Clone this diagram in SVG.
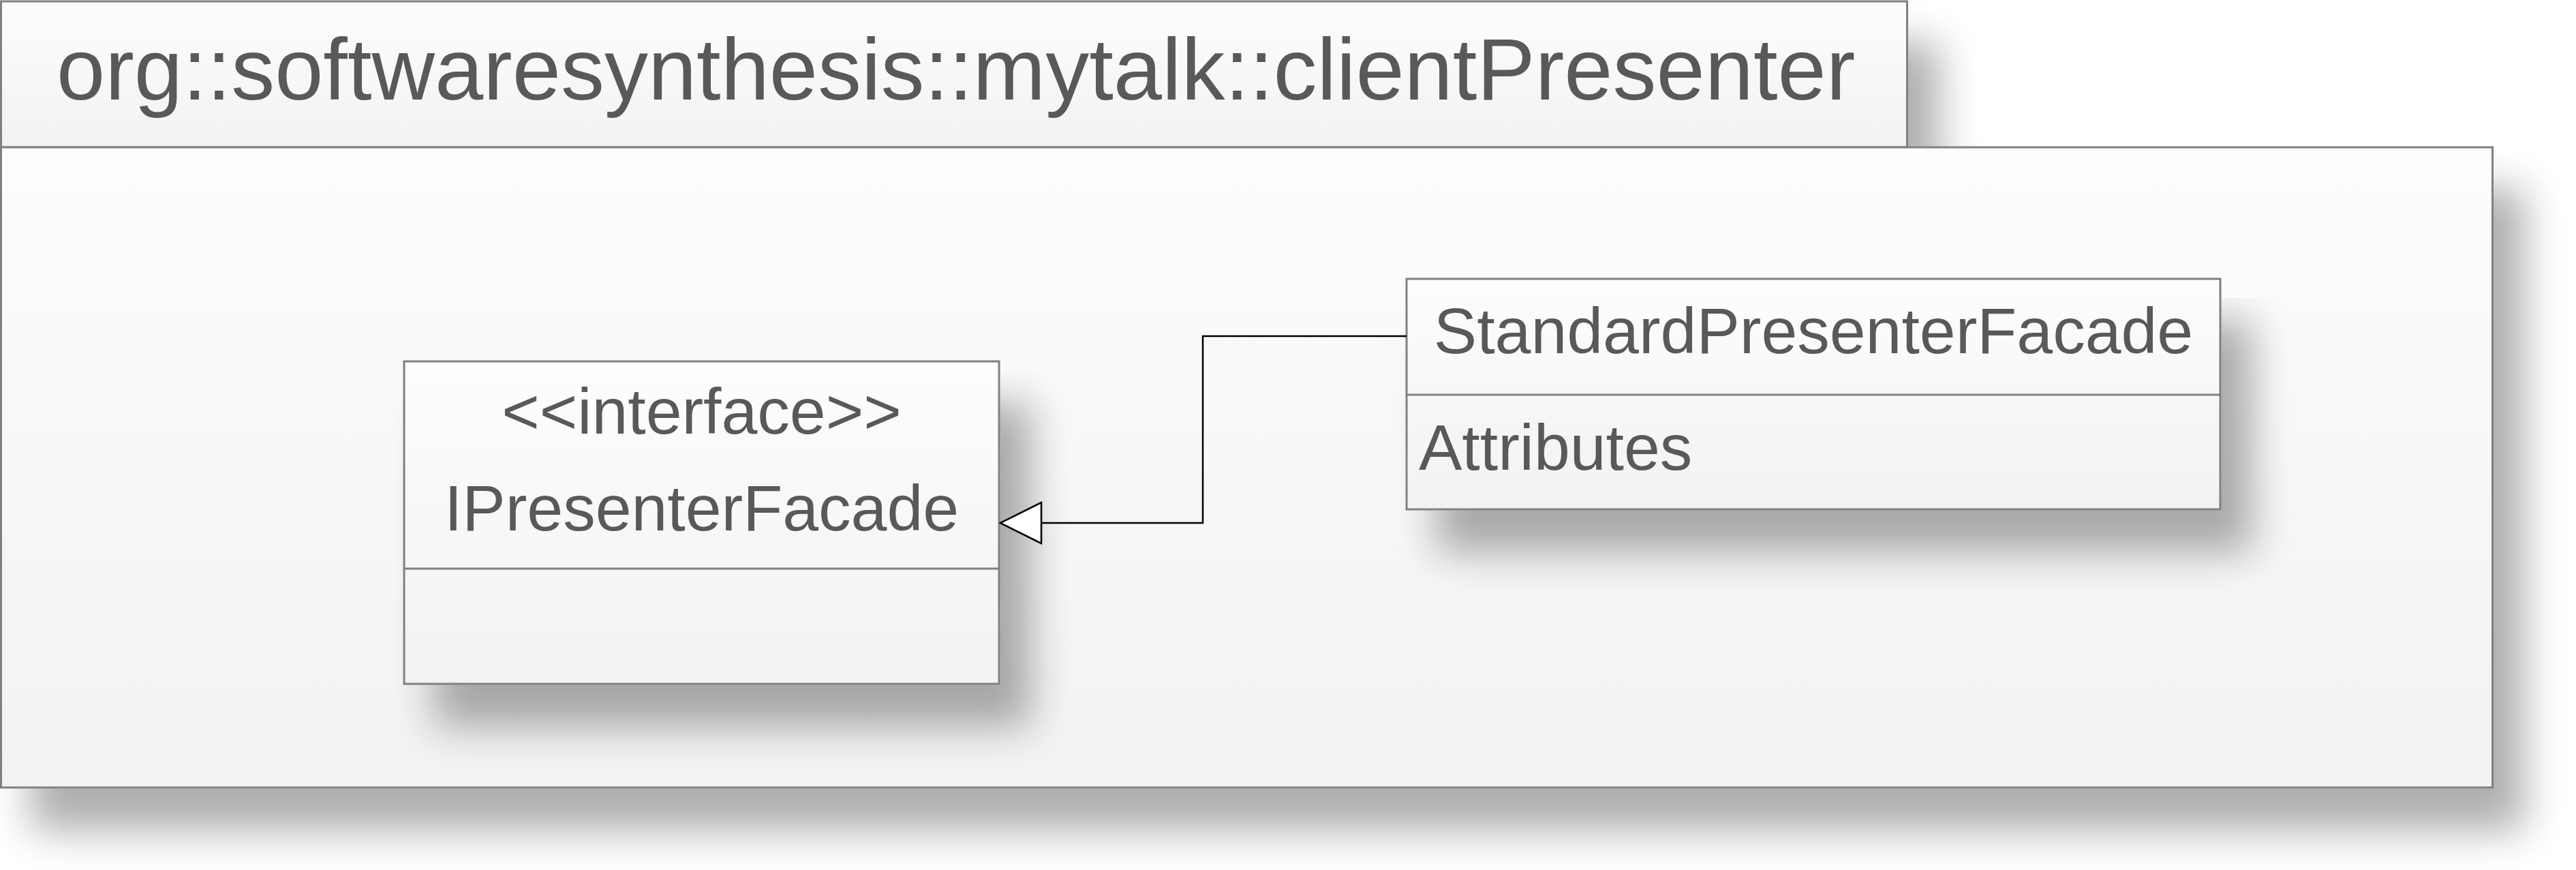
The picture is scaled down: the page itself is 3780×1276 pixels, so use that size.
<svg xmlns="http://www.w3.org/2000/svg" width="3780" height="1276" viewBox="0 0 3780 1276">
<defs>
<linearGradient id="gFill" x1="0" y1="0" x2="0" y2="1">
<stop offset="0" stop-color="#fdfdfd"/>
<stop offset="1" stop-color="#f2f2f2"/>
</linearGradient>
<filter id="shadow" x="-10%" y="-10%" width="130%" height="150%">
<feGaussianBlur in="SourceAlpha" stdDeviation="30"/>
<feOffset dx="45" dy="62" result="b"/>
<feComponentTransfer><feFuncA type="linear" slope="0.32"/></feComponentTransfer>
<feMerge><feMergeNode/><feMergeNode in="SourceGraphic"/></feMerge>
</filter>
<marker id="tri" markerWidth="64" markerHeight="64" viewBox="0 0 64 64" refX="62" refY="32" orient="auto" markerUnits="userSpaceOnUse">
<path d="M2,2 L62,32 L2,62 Z" fill="#ffffff" stroke="#000000" stroke-width="2.5"/>
</marker>
</defs>
<style>
.box{fill:url(#gFill);stroke:#808080;stroke-width:3}
.div{stroke:#808080;stroke-width:3}
.t{font-family:"Liberation Sans",Arial,sans-serif;fill:#595959}
.conn{fill:none;stroke:#000000;stroke-width:2.5}
</style>
<rect width="3780" height="1276" fill="#ffffff"/>
<g id="package" filter="url(#shadow)">
<rect class="box" x="1.5" y="2" width="2797" height="214"/>
<rect class="box" x="1.5" y="216" width="3656" height="939"/>
</g>
<text class="t" x="83" y="146" font-size="128">org::softwaresynthesis::mytalk::clientPresenter</text>
<g id="IPresenterFacade">
<g filter="url(#shadow)">
<rect class="box" x="593" y="530" width="873" height="473"/>
</g>
<line class="div" x1="593" y1="834" x2="1466" y2="834"/>
<text class="t" x="1029.5" y="636" font-size="95" text-anchor="middle">&lt;&lt;interface&gt;&gt;</text>
<text class="t" x="1029.5" y="778" font-size="95" text-anchor="middle">IPresenterFacade</text>
</g>
<g id="StandardPresenterFacade">
<g filter="url(#shadow)">
<rect class="box" x="2064" y="409" width="1194" height="338"/>
</g>
<line class="div" x1="2064" y1="579" x2="3258" y2="579"/>
<text class="t" x="2661" y="518" font-size="95" text-anchor="middle">StandardPresenterFacade</text>
<text class="t" x="2082" y="689" font-size="95">Attributes</text>
</g>
<g id="connectors">
<path class="conn" d="M2064,493 L1765,493 L1765,767 L1468,767" marker-end="url(#tri)"/>
</g>
</svg>
